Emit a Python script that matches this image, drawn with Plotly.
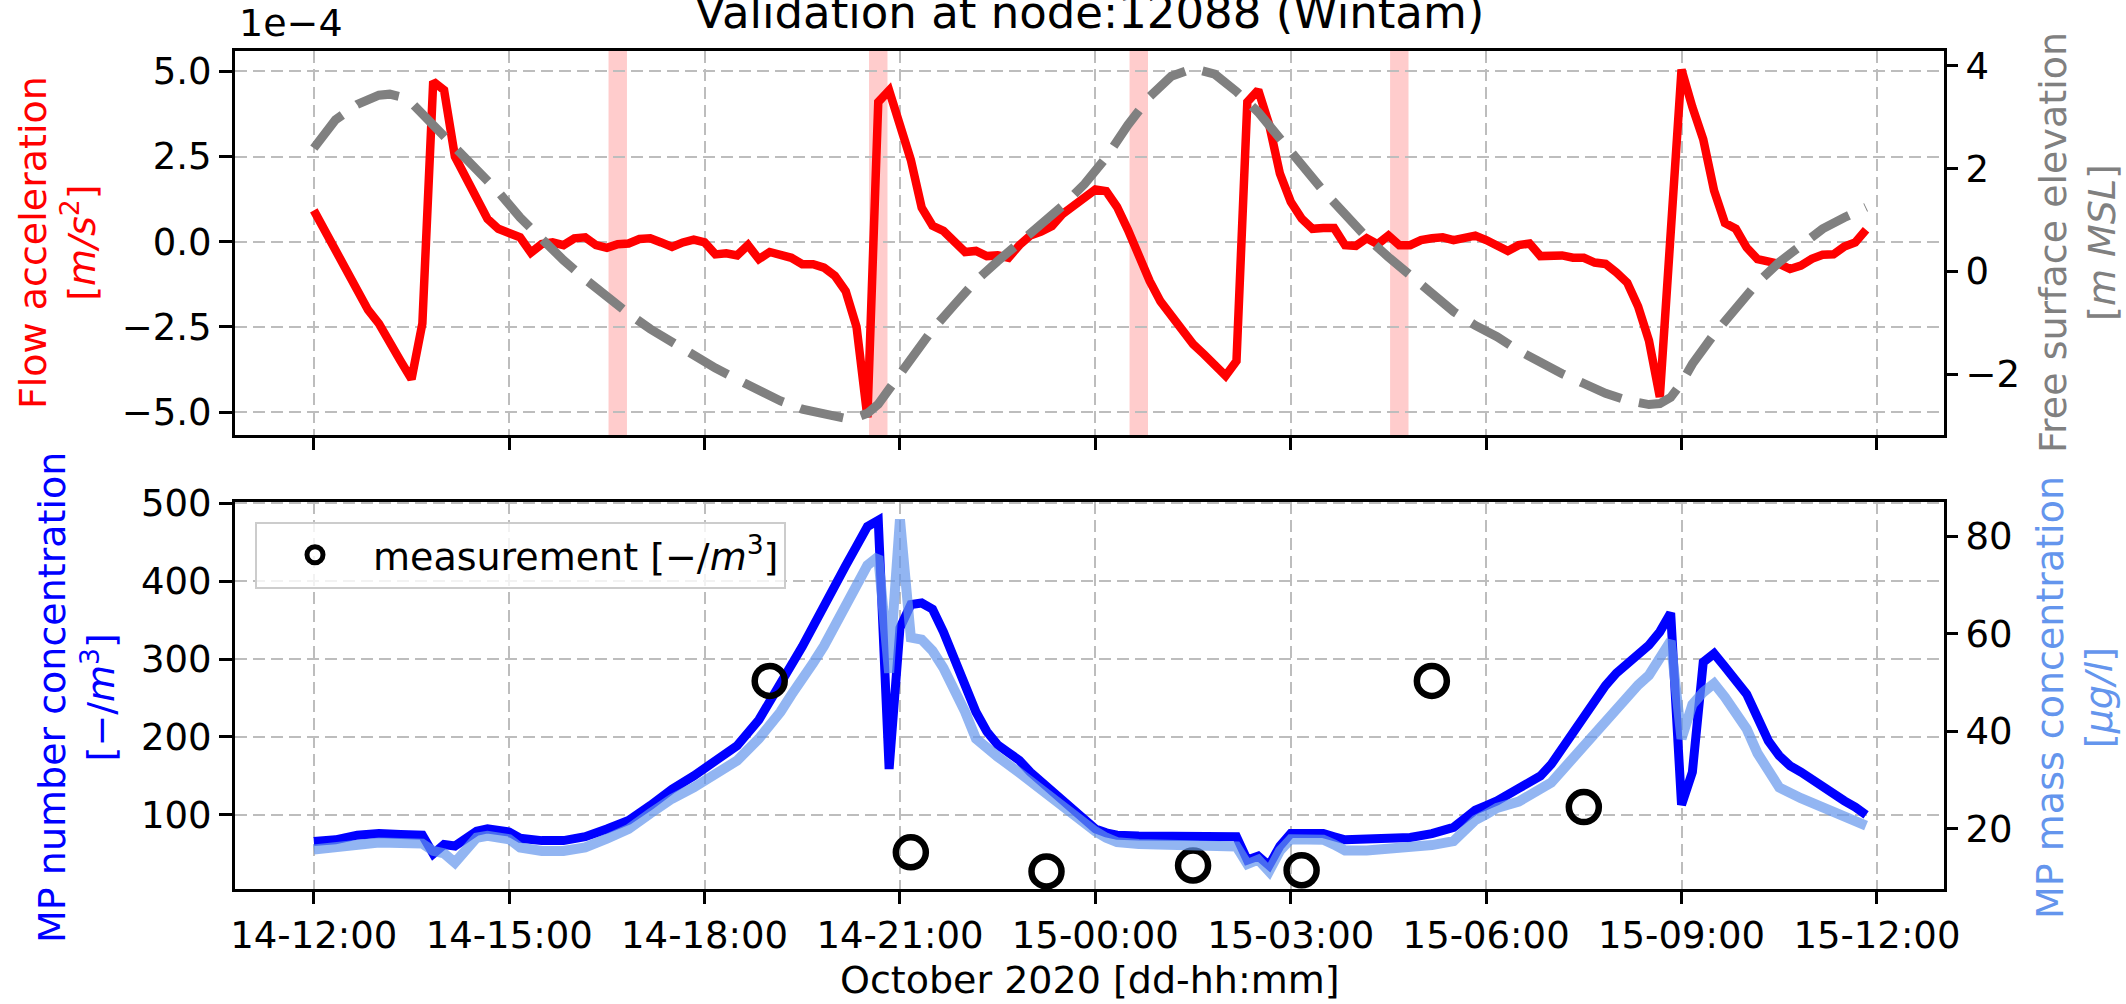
import pandas as pd
import plotly.graph_objects as go

T0 = pd.Timestamp("2020-10-14 12:00")

# ---------------- data (x = minutes after 14-12:00) ----------------
accel_min = [0, 30, 40, 50, 60, 70, 80, 90, 100, 110, 120, 130, 140, 150, 160, 170, 180, 190, 200, 210,
             220, 230, 240, 250, 260, 270, 280, 290, 300, 310, 320, 330, 340, 350, 360, 370, 380, 390, 400, 410,
             420, 430, 440, 450, 460, 470, 480, 490, 500, 510, 520, 530, 540, 550, 560, 570, 580, 590, 600, 610,
             620, 630, 640, 650, 660, 670, 680, 690, 700, 710, 720, 730, 740, 750, 760, 770, 780, 790, 800, 810,
             820, 830, 840, 850, 860, 870, 880, 890, 900, 910, 920, 930, 940, 950, 960, 970, 980, 990, 1000, 1010,
             1020, 1030, 1040, 1050, 1060, 1070, 1080, 1090, 1100, 1110, 1120, 1130, 1140, 1150, 1160, 1170, 1180,
             1190, 1200, 1210, 1220, 1230, 1240, 1260, 1270, 1280, 1290, 1300, 1310, 1320, 1330, 1340, 1350, 1360,
             1370, 1380, 1390, 1400, 1410, 1420, 1430]
accel_1e4 = [0.92, -0.86, -1.5, -2.0, -2.4, -3.0, -3.5, -4.03, -2.4, 4.7, 4.45, 2.5, 1.86, 1.27, 0.67, 0.38, 0.23, 0.13, -0.32, -0.07,
             -0.02, -0.1, 0.1, 0.13, -0.1, -0.18, -0.07, -0.05, 0.08, 0.1, -0.02, -0.15, -0.02, 0.06, -0.02, -0.37, -0.34, -0.4, -0.1, -0.51,
             -0.3, -0.37, -0.47, -0.66, -0.66, -0.76, -1.0, -1.45, -2.5, -5.15, 4.1, 4.44, 3.45, 2.4, 1.0, 0.47, 0.32, 0.0, -0.3, -0.27,
             -0.42, -0.4, -0.47, -0.1, 0.18, 0.3, 0.46, 0.82, 1.05, 1.3, 1.53, 1.48, 1.02, 0.35, -0.45, -1.15, -1.75, -2.2, -2.65, -3.0,
             -3.3, -3.6, -3.93, -3.5, 4.1, 4.45, 3.45, 2.0, 1.17, 0.68, 0.38, 0.4, 0.4, -0.1, -0.12, 0.1, -0.07, 0.18, -0.1, -0.1,
             0.05, 0.1, 0.13, 0.05, 0.1, 0.18, 0.05, -0.1, -0.27, -0.1, -0.05, -0.42, -0.42, -0.4, -0.47, -0.47, -0.61,
             -0.65, -0.9, -1.2, -1.9, -2.9, -4.55, 5.05, 3.95, 3.0, 1.5, 0.55, 0.38, -0.17, -0.51, -0.56, -0.65, -0.8,
             -0.7, -0.5, -0.38, -0.37, -0.14, -0.02, 0.35]

elev_min = [0, 20, 40, 60, 70, 80, 90, 110, 130, 150, 170, 190, 210, 230, 250, 270, 290, 310, 330, 350,
            370, 390, 410, 430, 450, 470, 490, 500, 510, 520, 530, 540, 550, 570, 590, 610, 630, 650, 670, 690,
            710, 730, 750, 770, 790, 810, 830, 850, 870, 890, 910, 930, 950, 970, 990, 1010, 1030, 1050, 1070, 1090,
            1110, 1130, 1150, 1170, 1190, 1210, 1230, 1240, 1250, 1260, 1270, 1290, 1310, 1330, 1350, 1370, 1390,
            1410, 1430]
elev_m = [2.40, 2.95, 3.25, 3.43, 3.45, 3.40, 3.28, 2.86, 2.40, 1.97, 1.55, 1.05, 0.62, 0.22, -0.15, -0.50, -0.82, -1.12, -1.38, -1.65,
          -1.88, -2.10, -2.33, -2.52, -2.68, -2.79, -2.86, -2.84, -2.76, -2.58, -2.30, -1.98, -1.68, -1.13, -0.65, -0.18, 0.20, 0.55, 0.90, 1.28,
          1.70, 2.22, 2.85, 3.40, 3.80, 3.95, 3.84, 3.50, 3.10, 2.62, 2.08, 1.57, 1.10, 0.66, 0.28, -0.08, -0.42, -0.78, -1.05, -1.27,
          -1.54, -1.77, -1.99, -2.18, -2.37, -2.51, -2.59, -2.57, -2.45, -2.17, -1.80, -1.22, -0.70, -0.22, 0.18, 0.53, 0.83,
          1.05, 1.25]

num_min = [0, 20, 40, 60, 80, 100, 110, 120, 130, 150, 160, 180, 190, 210, 230, 250, 270, 290, 310, 330,
           350, 370, 390, 410, 420, 430, 440, 450, 460, 470, 480, 490, 500, 510, 520, 530, 540, 550, 560, 570,
           580, 590, 600, 610, 620, 630, 640, 650, 660, 670, 680, 690, 700, 710, 720, 730, 740, 760, 780, 800,
           820, 840, 850, 860, 870, 880, 890, 900, 920, 930, 940, 950, 970, 990, 1010, 1030, 1050, 1060, 1070, 1080,
           1090, 1110, 1130, 1140, 1150, 1160, 1170, 1180, 1190, 1200, 1210, 1220, 1230, 1240, 1250, 1260, 1270,
           1280, 1290, 1300, 1310, 1320, 1330, 1340, 1350, 1360, 1370, 1380, 1390, 1400, 1410, 1420, 1430]
num_conc = [66, 68, 74, 76, 75, 74, 50, 62, 60, 79, 82, 78, 70, 67, 67, 72, 82, 93, 112, 133,
            150, 168, 189, 222, 245, 265, 290, 316, 342, 370, 395, 420, 445, 470, 478, 159, 340, 370, 372, 364,
            335, 300, 268, 232, 207, 190, 180, 170, 155, 143, 130, 117, 104, 92, 82, 77, 74, 73, 73, 72,
            72, 72, 72, 42, 47, 35, 60, 76, 77, 76, 72, 68, 69, 70, 71, 76, 84, 95, 106, 112,
            118, 134, 150, 165, 185, 205, 224, 248, 266, 282, 293, 305, 318, 335, 359, 113, 155,
            296, 307, 290, 272, 255, 225, 195, 176, 163, 155, 145, 135, 126, 118, 110, 100]

mass_min = [0, 20, 40, 60, 80, 100, 110, 120, 130, 150, 160, 180, 190, 210, 230, 250, 270, 290, 310, 330,
            350, 370, 390, 410, 420, 430, 440, 450, 460, 470, 480, 490, 500, 510, 520, 530, 540, 550, 560, 570,
            580, 590, 600, 610, 620, 630, 650, 670, 690, 710, 720, 730, 740, 760, 800, 840, 850, 860, 870, 880,
            890, 900, 920, 930, 940, 950, 970, 990, 1010, 1030, 1050, 1060, 1070, 1080, 1090, 1110, 1130, 1140,
            1150, 1160, 1170, 1180, 1190, 1200, 1210, 1220, 1230, 1240, 1250, 1260, 1270, 1280, 1290, 1300, 1310,
            1320, 1330, 1340, 1350, 1370, 1390, 1410, 1430]
mass_conc = [15.8, 16.3, 17.0, 17.2, 17.1, 17.0, 15.5, 15.0, 13.1, 18.2, 18.6, 17.9, 16.2, 15.5, 15.5, 16.2, 18.0, 20.0, 23.2, 26.2,
             28.5, 31.0, 34.0, 38.5, 41.0, 44.0, 47.5, 50.5, 54.0, 57.5, 61.5, 65.2, 70.0, 74.0, 75.8, 52.0, 83.4, 59.2, 58.8, 56.5,
             53.0, 49.0, 44.0, 38.5, 36.5, 34.8, 31.5, 28.0, 24.8, 21.2, 19.5, 18.2, 17.3, 16.9, 16.7, 16.5, 16.4, 12.8, 13.7, 11.3,
             15.5, 17.9, 18.0, 17.8, 16.8, 15.6, 15.6, 15.8, 16.0, 16.7, 17.5, 19.5, 21.8, 23.0, 24.3, 25.6, 28.0, 29.5,
             32.0, 34.5, 37.5, 40.0, 42.5, 45.0, 47.0, 49.5, 51.5, 55.0, 58.5, 38.5, 45.5, 48.0, 49.8, 47.0, 43.8,
             40.5, 35.5, 31.5, 28.5, 26.3, 24.3, 22.6, 20.7]

meas_min = [420, 550, 675, 810, 910, 1030, 1170]
meas_conc = [272, 52, 27.5, 35, 29, 272, 110]

band_centres = ["2020-10-14 16:40", "2020-10-14 20:40", "2020-10-15 00:40", "2020-10-15 04:40"]
band_half_minutes = 8.5

x_tick_labels_fmt = "%d-%H:%M"


def to_time(mins):
    return [T0 + pd.Timedelta(minutes=m) for m in mins]


FONT = "DejaVu Sans"
FS = 37      # tick labels
FL = 38      # axis labels / legend
GRID = dict(showgrid=True, gridcolor="#bdbdbd", gridwidth=2, griddash="12px,6px")

fig = go.Figure()
fig.add_trace(go.Scatter(x=to_time(accel_min), y=accel_1e4, xaxis="x", yaxis="y", mode="lines",
                         line=dict(color="red", width=8.5), showlegend=False))
fig.add_trace(go.Scatter(x=to_time(elev_min), y=elev_m, xaxis="x", yaxis="y2", mode="lines",
                         line=dict(color="#808080", width=9, dash="44px,18px"), showlegend=False))
fig.add_trace(go.Scatter(x=to_time(num_min), y=num_conc, xaxis="x2", yaxis="y3", mode="lines",
                         line=dict(color="blue", width=9), showlegend=False))
fig.add_trace(go.Scatter(x=to_time(meas_min), y=meas_conc, xaxis="x2", yaxis="y3", mode="markers",
                         marker=dict(symbol="circle-open", size=30, color="black", line=dict(width=6.5, color="black")),
                         name="measurement [−/<i>m</i><sup>3</sup>]", showlegend=True))
fig.add_trace(go.Scatter(x=to_time(mass_min), y=mass_conc, xaxis="x2", yaxis="y4", mode="lines",
                         line=dict(color="rgba(100,149,237,0.7)", width=10), showlegend=False))

xrange = ["2020-10-14 10:47:24", "2020-10-15 13:01:48"]
common_x = dict(type="date", range=xrange, tick0="2020-10-14 12:00", dtick=3 * 3600 * 1000,
                tickformat=x_tick_labels_fmt, ticks="outside", ticklen=12, tickwidth=3, tickcolor="black",
                showline=True, linewidth=3, linecolor="black", mirror=True, zeroline=False,
                tickfont=dict(size=FS, color="black", family=FONT), **GRID)
yleft = dict(ticks="outside", ticklen=13, tickwidth=3, tickcolor="black", showline=True, linewidth=3,
             linecolor="black", mirror=True, zeroline=False, tickfont=dict(size=FS, color="black", family=FONT), **GRID)
yright = dict(ticks="outside", ticklen=13, tickwidth=3, tickcolor="black", showline=False, showgrid=False,
              zeroline=False, side="right", tickfont=dict(size=FS, color="black", family=FONT))

top_dom = [0.5419, 1.0]
bot_dom = [0.0, 0.4620]

fig.update_layout(
    width=2126, height=1004, autosize=False,
    margin=dict(l=235, r=182, t=51, b=115),
    paper_bgcolor="white", plot_bgcolor="white",
    font=dict(family=FONT, size=FS, color="black"),
    xaxis=dict(domain=[0, 1], anchor="y", showticklabels=False, **common_x),
    xaxis2=dict(domain=[0, 1], anchor="y3", **common_x),
    yaxis=dict(domain=top_dom, anchor="x", range=[-5.665, 5.595], tickvals=[-5, -2.5, 0, 2.5, 5],
               ticktext=["−5.0", "−2.5", "0.0", "2.5", "5.0"], **yleft),
    yaxis2=dict(overlaying="y", anchor="x", range=[-3.18, 4.29], tickvals=[-2, 0, 2, 4],
                ticktext=["−2", "0", "2", "4"], **yright),
    yaxis3=dict(domain=bot_dom, anchor="x2", range=[4.9, 501.8], tickvals=[100, 200, 300, 400, 500], **yleft),
    yaxis4=dict(overlaying="y3", anchor="x2", range=[7.7, 87.0], tickvals=[20, 40, 60, 80], **yright),
    legend=dict(x=0.0117, y=0.4385, xanchor="left", yanchor="top", bgcolor="rgba(255,255,255,0.8)",
                bordercolor="#cccccc", borderwidth=2, font=dict(size=FL, family=FONT), itemwidth=106),
    title=dict(text="Validation at node:12088 (Wintam)", x=0.5, xref="paper", xanchor="center",
               y=0.988, yref="container", yanchor="middle", font=dict(size=45, family=FONT, color="black")),
    showlegend=True,
)

shapes = []
for c in band_centres:
    tc = pd.Timestamp(c)
    shapes.append(dict(type="rect", xref="x", yref="y domain", x0=tc - pd.Timedelta(minutes=band_half_minutes),
                       x1=tc + pd.Timedelta(minutes=band_half_minutes), y0=0, y1=1,
                       fillcolor="rgba(255,0,0,0.2)", line=dict(width=0), layer="below"))
fig.update_layout(shapes=shapes)

ann = [
    dict(text="1e−4", xref="paper", yref="paper", x=0, y=1, xanchor="left", yanchor="bottom",
         xshift=2, yshift=4, showarrow=False, font=dict(size=FL, color="black")),
    dict(text="Flow acceleration<br>[<i>m/s</i><sup>2</sup>]", xref="paper", yref="paper", x=0, y=0.7708,
         xshift=-178, textangle=-90, xanchor="center", yanchor="middle", showarrow=False,
         font=dict(size=FL, color="red")),
    dict(text="Free surface elevation<br>[<i>m MSL</i>]", xref="paper", yref="paper", x=1, y=0.7708,
         xshift=133, textangle=-90, xanchor="center", yanchor="middle", showarrow=False,
         font=dict(size=FL, color="#808080")),
    dict(text="MP number concentration<br>[−/<i>m</i><sup>3</sup>]", xref="paper", yref="paper", x=0, y=0.228,
         xshift=-158, textangle=-90, xanchor="center", yanchor="middle", showarrow=False,
         font=dict(size=FL, color="blue")),
    dict(text="MP mass concentration<br>[<i>µg/l</i>]", xref="paper", yref="paper", x=1, y=0.228,
         xshift=131, textangle=-90, xanchor="center", yanchor="middle", showarrow=False,
         font=dict(size=FL, color="cornflowerblue")),
    dict(text="October 2020 [dd-hh:mm]", xref="paper", yref="paper", x=0.5, y=0, yshift=-91,
         xanchor="center", yanchor="middle", showarrow=False, font=dict(size=FL, color="black")),
]
fig.update_layout(annotations=ann)

fig.write_html("out.html")
